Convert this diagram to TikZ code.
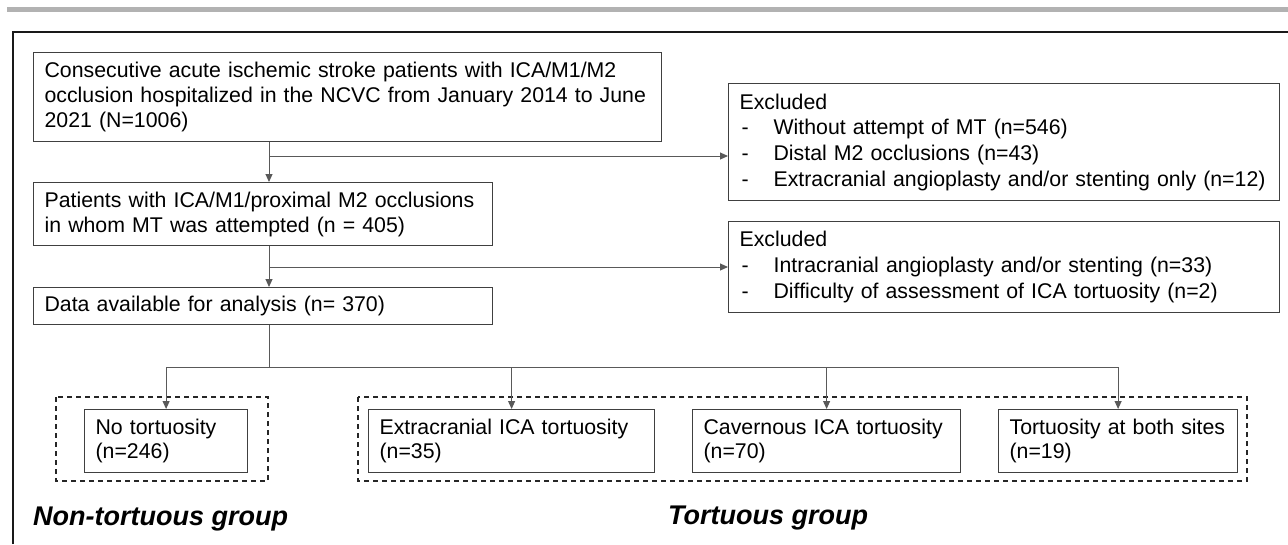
\documentclass[tikz,border=0pt]{standalone}
\usepackage{fontspec}
\setmainfont{Liberation Sans}
\usetikzlibrary{arrows.meta}
\newcommand{\exitem}[1]{\makebox[34pt][l]{\hspace{2pt}-}#1}

\begin{document}
\begin{tikzpicture}[x=1pt, y=-1pt, >={Triangle[length=8pt,width=7pt]},
  flowbox/.style={draw=black!75, line width=1.2pt, anchor=north west, align=left, inner xsep=11pt, inner ysep=0pt, font=\fontsize{21.3}{25}\selectfont},
  groupbox/.style={draw=black!85, line width=1.5pt, dash pattern=on 5pt off 4pt},
  link/.style={draw=black!65, line width=1pt},
  grouplabel/.style={anchor=base west, inner sep=0pt, font=\fontsize{27}{32}\selectfont\bfseries\itshape}]
\useasboundingbox (0,0) rectangle (1288,544);
% header bar and frame
\fill[black!30] (7,7) rectangle (1288,12);
\draw[line width=1.6pt, black!90] (13,544) -- (13,32) -- (1288,32);

\node[flowbox, text width=606pt, minimum height=89pt] (first) at (33,52) {Consecutive acute ischemic stroke patients with ICA/M1/M2\\occlusion hospitalized in the NCVC from January 2014 to June\\2021 (N=1006)};
\node[flowbox, text width=437pt, minimum height=63pt] (attempted) at (33,182) {Patients with ICA/M1/proximal M2 occlusions\\in whom MT was attempted (n = 405)};
\node[flowbox, text width=437pt, minimum height=37pt] (analysed) at (33,287) {Data available for analysis (n= 370)};
\node[flowbox, text width=529pt, minimum height=117pt, font=\fontsize{21.3}{25.7}\selectfont] (exclone) at (728,83) {Excluded\\\exitem{Without attempt of MT (n=546)}\\\exitem{Distal M2 occlusions (n=43)}\\\exitem{Extracranial angioplasty and/or stenting only (n=12)}};
\node[flowbox, text width=529pt, minimum height=91pt, font=\fontsize{21.3}{25.7}\selectfont] (excltwo) at (728,221) {Excluded\\\exitem{Intracranial angioplasty and/or stenting (n=33)}\\\exitem{Difficulty of assessment of ICA tortuosity (n=2)}};

% groups
\draw[groupbox] (56,397) rectangle (268,481);
\draw[groupbox] (358,397) rectangle (1247,481);
\node[flowbox, text width=141pt, minimum height=63pt, font=\fontsize{21.3}{23.5}\selectfont] (notort) at (84,409) {No tortuosity\\(n=246)};
\node[flowbox, text width=264pt, minimum height=63pt, font=\fontsize{21.3}{23.5}\selectfont] (extratort) at (368,409) {Extracranial ICA tortuosity\\(n=35)};
\node[flowbox, text width=246pt, minimum height=63pt, font=\fontsize{21.3}{23.5}\selectfont] (cavtort) at (692,409) {Cavernous ICA tortuosity\\(n=70)};
\node[flowbox, text width=217pt, minimum height=63pt, font=\fontsize{21.3}{23.5}\selectfont] (bothtort) at (998,409) {Tortuosity at both sites\\(n=19)};
\node[grouplabel] (nontortlbl) at (33,525) {Non-tortuous group};
\node[grouplabel] (tortlbl) at (668,524) {Tortuous group};

% connectors
\coordinate (split1) at (269,156);
\coordinate (split2) at (269,267);
\coordinate (split3) at (269,367);
\draw[link,->] (first.south -| split1) -- (attempted.north -| split1);
\draw[link,->] (split1) -- (split1 -| exclone.west);
\draw[link,->] (attempted.south -| split2) -- (analysed.north -| split2);
\draw[link,->] (split2) -- (split2 -| excltwo.west);
\draw[link] (analysed.south -| split3) -- (split3);
\draw[link] (split3 -| notort.north) -- (split3 -| bothtort.north);
\foreach \n in {notort,extratort,cavtort,bothtort}
  \draw[link,->] (split3 -| \n.north) -- (\n.north);
\end{tikzpicture}
\end{document}
